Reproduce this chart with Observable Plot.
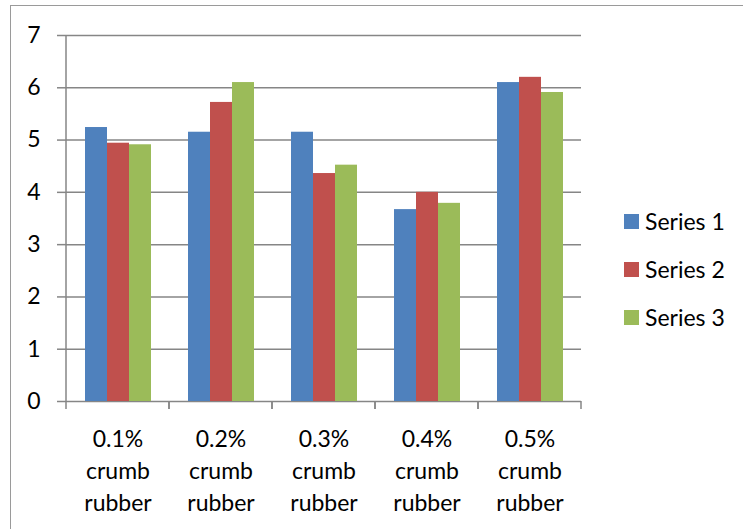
<!DOCTYPE html>
<html><head><meta charset="utf-8">
<script src="https://cdn.jsdelivr.net/npm/d3@7"></script>
<script src="https://cdn.jsdelivr.net/npm/@observablehq/plot@0.6"></script>
<style>
body{margin:0;background:#fff;font-family:Lato,"Noto Sans",sans-serif;}
#wrap{position:relative;width:743px;height:529px;overflow:hidden;}
#border{position:absolute;left:10px;top:5px;width:800px;height:600px;border-left:1.5px solid #9a9a9a;border-top:1.5px solid #9a9a9a;box-sizing:border-box;}
#chart{position:absolute;left:0;top:0;}
#legend{position:absolute;left:624px;top:197px;font-size:23px;color:#000;}
.item{display:flex;align-items:center;height:48px;}
.sw{width:15px;height:15px;margin-right:6px;}
</style>
</head><body>
<div id="wrap"><div id="border"></div><div id="chart"></div><div id="legend"></div></div>
<script>
const categories = ["0.1%\ncrumb\nrubber", "0.2%\ncrumb\nrubber", "0.3%\ncrumb\nrubber", "0.4%\ncrumb\nrubber", "0.5%\ncrumb\nrubber"];
const seriesNames = ["Series 1", "Series 2", "Series 3"];
const series1 = [5.24, 5.15, 5.15, 3.67, 6.10];
const series2 = [4.94, 5.72, 4.36, 4.00, 6.20];
const series3 = [4.91, 6.10, 4.52, 3.79, 5.91];
const colors = ["#4F81BD", "#C0504D", "#9BBB59"];
const yTicks = [0, 1, 2, 3, 4, 5, 6, 7];

const seriesValues = [series1, series2, series3];
const data = categories.flatMap((c, i) => seriesValues.map((s, j) => ({category: c, series: seriesNames[j], value: s[i]})));

const axisGray = "#868686";
let facetCall = 0;
const boundaryTicks = (index, scales, values, dims) => {
  const g = d3.create("svg:g").attr("stroke", axisGray).attr("stroke-width", 1.5);
  const y0 = scales.y(0);
  if (facetCall++ === 0) {
    g.append("line").attr("x1", dims.marginLeft).attr("x2", dims.marginLeft)
      .attr("y1", scales.y(yTicks[yTicks.length - 1])).attr("y2", y0);
  }
  for (const x of [dims.marginLeft, dims.width - dims.marginRight]) {
    g.append("line").attr("x1", x).attr("x2", x).attr("y1", y0).attr("y2", y0 + 8);
  }
  return g.node();
};

const chart = Plot.plot({
  width: 743,
  height: 529,
  marginLeft: 66,
  marginRight: 162,
  marginTop: 35,
  marginBottom: 128,
  style: {fontFamily: "Lato, 'Noto Sans', sans-serif", background: "transparent"},
  fx: {domain: categories, padding: 0},
  x: {domain: seriesNames, paddingInner: 0, paddingOuter: 0.76, axis: null},
  y: {domain: [0, 7]},
  color: {domain: seriesNames, range: colors},
  marks: [
    Plot.gridY(yTicks, {stroke: axisGray, strokeOpacity: 1, strokeWidth: 1.5}),
    Plot.barY(data, {fx: "category", x: "series", y: "value", fill: "series"}),
    Plot.axisY(yTicks, {tickSize: 9, tickPadding: 17, fontSize: 23, tickFormat: d3.format("d"), stroke: axisGray, strokeWidth: 1.5, fill: "#000", label: null}),
    Plot.axisFx({anchor: "bottom", tickSize: 0, tickPadding: 23, fontSize: 23, lineHeight: 1.39, fill: "#000", label: null}),
    boundaryTicks
  ]
});
document.getElementById("chart").appendChild(chart);

const legend = d3.select("#legend");
seriesNames.forEach((s, i) => {
  const it = legend.append("div").attr("class", "item");
  it.append("div").attr("class", "sw").style("background", colors[i]);
  it.append("span").text(s);
});
</script>
</body></html>
